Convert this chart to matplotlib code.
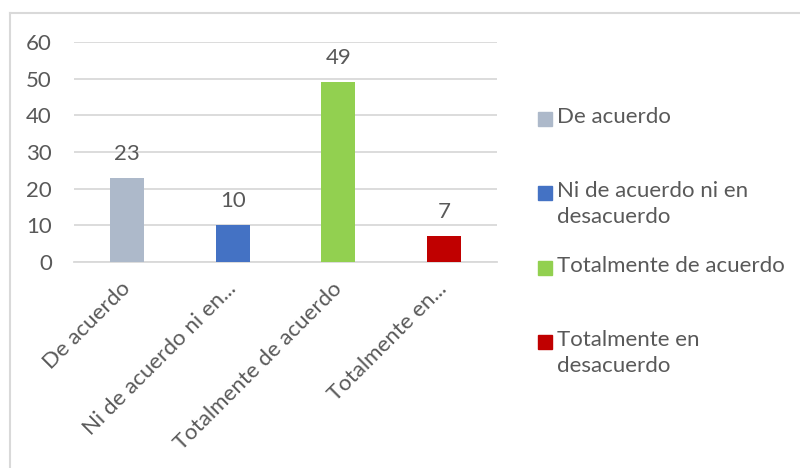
import matplotlib
matplotlib.use("Agg")
import matplotlib.pyplot as plt
from matplotlib.patches import Rectangle
from matplotlib.lines import Line2D

categories = ["De acuerdo", "Ni de acuerdo ni en desacuerdo",
              "Totalmente de acuerdo", "Totalmente en desacuerdo"]
tick_labels = ["De acuerdo", "Ni de acuerdo ni en...",
               "Totalmente de acuerdo", "Totalmente en..."]
legend_labels = ["De acuerdo", "Ni de acuerdo ni en\ndesacuerdo",
                 "Totalmente de acuerdo", "Totalmente en\ndesacuerdo"]
values = [23, 10, 49, 7]
colors = ["#ADB9CA", "#4472C4", "#92D050", "#C00000"]
y_ticks = [0, 10, 20, 30, 40, 50, 60]

plt.rcParams["font.family"] = ["Lato", "DejaVu Sans"]
text_color = "#595959"
grid_color = "#D9D9D9"
fs = 16

W, H = 800, 468
fig = plt.figure(figsize=(W / 100, H / 100), dpi=100)

# axes placed in pixel coordinates
left, right, top, bottom = 74, 497, 42, 262
ax = fig.add_axes([left / W, 1 - bottom / H, (right - left) / W, (bottom - top) / H])

x = list(range(len(values)))
ax.bar(x, values, width=0.32, color=colors, zorder=3)
ax.set_xlim(-0.5, len(values) - 0.5)
ax.set_ylim(0, 60)
ax.set_yticks(y_ticks)
ax.yaxis.grid(True, color=grid_color, linewidth=1.3, zorder=0)
ax.set_axisbelow(True)
for s in ["top", "right", "left"]:
    ax.spines[s].set_visible(False)
ax.spines["bottom"].set_color(grid_color)
ax.spines["bottom"].set_linewidth(1.3)
ax.tick_params(axis="both", length=0, labelsize=fs, colors=text_color)
ax.tick_params(axis="y", pad=16)
ax.set_xticks(x)
ax.set_xticklabels(tick_labels, rotation=45, ha="right", va="center",
                   rotation_mode="anchor", fontsize=fs, color=text_color)
ax.tick_params(axis="x", pad=17)

for xi, v in zip(x, values):
    ax.annotate(str(v), (xi, v), xytext=(0, 10), textcoords="offset points",
                ha="center", va="bottom", fontsize=fs, color=text_color)

# legend drawn at the right of the plot
first_line_y = [119, 193, 268, 342]
for lab, col, yy in zip(legend_labels, colors, first_line_y):
    fig.patches.append(Rectangle((538 / W, 1 - (yy + 7) / H), 14 / W, 14 / H,
                                 transform=fig.transFigure, color=col))
    fig.text(557 / W, 1 - (yy - 12) / H, lab, ha="left", va="top",
             fontsize=fs, color=text_color, linespacing=1.38)

# chart area border (top and left edges visible)
fig.add_artist(Line2D([10 / W, 1], [1 - 13 / H, 1 - 13 / H], color=grid_color,
                      linewidth=1.5, transform=fig.transFigure))
fig.add_artist(Line2D([10 / W, 10 / W], [0, 1 - 13 / H], color=grid_color,
                      linewidth=1.5, transform=fig.transFigure))

fig.savefig("out.png", dpi=100)
